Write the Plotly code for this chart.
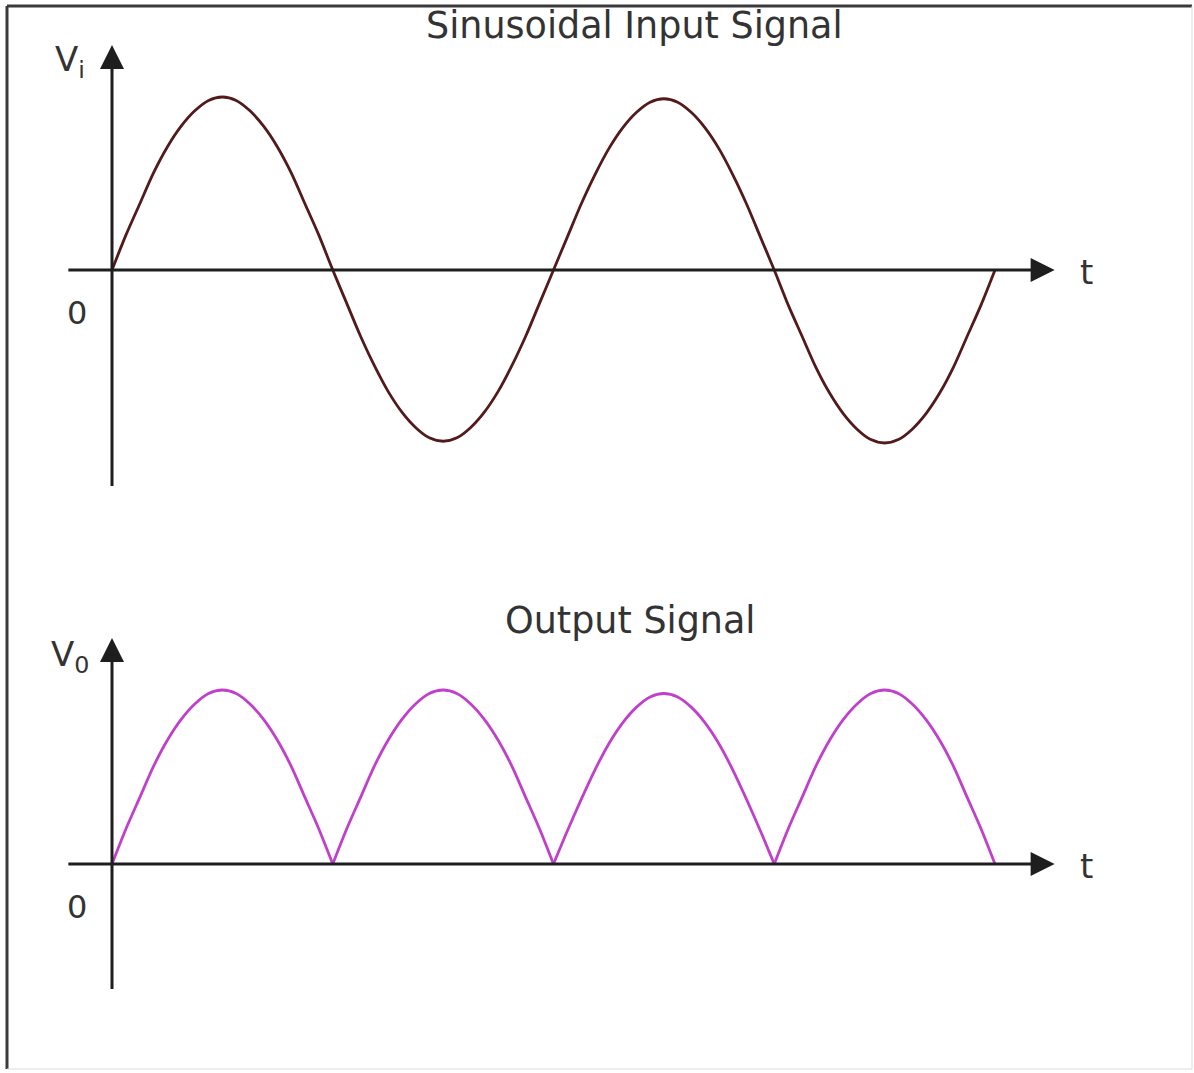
import plotly.graph_objects as go

# ---- data (t in half-periods, v in units of peak amplitude)
t_input = [0.0, 0.0625, 0.125, 0.1875, 0.25, 0.3125, 0.375, 0.4375,
           0.5, 0.5625, 0.625, 0.6875, 0.75, 0.8125, 0.875, 0.9375,
           1.0, 1.0625, 1.125, 1.1875, 1.25, 1.3125, 1.375, 1.4375,
           1.5, 1.5625, 1.625, 1.6875, 1.75, 1.8125, 1.875, 1.9375,
           2.0, 2.0625, 2.125, 2.1875, 2.25, 2.3125, 2.375, 2.4375,
           2.5, 2.5625, 2.625, 2.6875, 2.75, 2.8125, 2.875, 2.9375,
           3.0, 3.0625, 3.125, 3.1875, 3.25, 3.3125, 3.375, 3.4375,
           3.5, 3.5625, 3.625, 3.6875, 3.75, 3.8125, 3.875, 3.9375, 4.0]
v_input = [0.0, 0.20, 0.38, 0.56, 0.71, 0.83, 0.92, 0.98,
           1.00, 0.98, 0.92, 0.83, 0.71, 0.56, 0.38, 0.20,
           0.0, -0.19, -0.38, -0.55, -0.70, -0.82, -0.91, -0.97,
           -0.99, -0.97, -0.91, -0.82, -0.70, -0.55, -0.38, -0.19,
           0.0, 0.19, 0.38, 0.55, 0.70, 0.82, 0.91, 0.97,
           0.99, 0.97, 0.91, 0.82, 0.70, 0.55, 0.38, 0.19,
           0.0, -0.20, -0.38, -0.56, -0.71, -0.83, -0.92, -0.98,
           -1.00, -0.98, -0.92, -0.83, -0.71, -0.56, -0.38, -0.20, 0.0]

t_output = [0.0, 0.0625, 0.125, 0.1875, 0.25, 0.3125, 0.375, 0.4375,
            0.5, 0.5625, 0.625, 0.6875, 0.75, 0.8125, 0.875, 0.9375, 1.0, None,
            1.0, 1.0625, 1.125, 1.1875, 1.25, 1.3125, 1.375, 1.4375,
            1.5, 1.5625, 1.625, 1.6875, 1.75, 1.8125, 1.875, 1.9375, 2.0, None,
            2.0, 2.0625, 2.125, 2.1875, 2.25, 2.3125, 2.375, 2.4375,
            2.5, 2.5625, 2.625, 2.6875, 2.75, 2.8125, 2.875, 2.9375, 3.0, None,
            3.0, 3.0625, 3.125, 3.1875, 3.25, 3.3125, 3.375, 3.4375,
            3.5, 3.5625, 3.625, 3.6875, 3.75, 3.8125, 3.875, 3.9375, 4.0]
v_output = [0.0, 0.20, 0.38, 0.56, 0.71, 0.83, 0.92, 0.98,
            1.00, 0.98, 0.92, 0.83, 0.71, 0.56, 0.38, 0.20, 0.0, None,
            0.0, 0.20, 0.38, 0.56, 0.71, 0.83, 0.92, 0.98,
            1.00, 0.98, 0.92, 0.83, 0.71, 0.56, 0.38, 0.20, 0.0, None,
            0.0, 0.19, 0.37, 0.54, 0.69, 0.81, 0.90, 0.96,
            0.98, 0.96, 0.90, 0.81, 0.69, 0.54, 0.37, 0.19, 0.0, None,
            0.0, 0.20, 0.38, 0.56, 0.71, 0.83, 0.92, 0.98,
            1.00, 0.98, 0.92, 0.83, 0.71, 0.56, 0.38, 0.20, 0.0]

titles = ["Sinusoidal Input Signal", "Output Signal"]
y_labels = ["V<sub>i</sub>", "V<sub>0</sub>"]
origin_label = "0"
time_label = "t"

# axis extents (data units)
t_axis = [-0.2, 4.27]
vi_axis = [-1.254, 1.30]
vo_axis = [-0.724, 1.299]

W, H = 1194, 1073
FONT = "DejaVu Sans"
TXT = "#333333"
AX = "#1e1e1e"

fig = go.Figure()
fig.add_trace(go.Scatter(x=t_input, y=v_input, mode="lines",
                         line=dict(color="#521a1a", width=2.8, shape="spline",
                                   smoothing=0.8),
                         yaxis="y", hoverinfo="skip"))
fig.add_trace(go.Scatter(x=t_output, y=v_output, mode="lines",
                         line=dict(color="#c040cc", width=2.8, shape="spline",
                                   smoothing=0.8),
                         connectgaps=False, yaxis="y2", hoverinfo="skip"))

ann = []
def arrow(x0, y0, x1, y1, yref):
    ann.append(dict(x=x1, y=y1, ax=x0, ay=y0, xref="x", yref=yref,
                    axref="x", ayref=yref, showarrow=True, arrowhead=2,
                    arrowsize=1.6, arrowwidth=3, arrowcolor=AX, text=" ",
                    font=dict(size=1), borderpad=0))

# top axes
arrow(t_axis[0], 0, t_axis[1], 0, "y")
arrow(0, vi_axis[0], 0, vi_axis[1], "y")
# bottom axes
arrow(t_axis[0], 0, t_axis[1], 0, "y2")
arrow(0, vo_axis[0], 0, vo_axis[1], "y2")

def txt(x, y, s, size=36, xanchor="center"):
    ann.append(dict(x=x / W, y=1 - y / H, xref="paper", yref="paper",
                    text=s, showarrow=False, xanchor=xanchor, yanchor="middle",
                    font=dict(family=FONT, size=size, color=TXT)))

txt(634, 26, titles[0], 36.5)
txt(630, 620, titles[1], 36.5)
txt(70, 62, y_labels[0], 34)
txt(70, 656, y_labels[1], 34)
txt(77, 313, origin_label, 32)
txt(77, 907, origin_label, 32)
txt(1086, 272, time_label, 34)
txt(1086, 866, time_label, 34)

shapes = [
    dict(type="line", xref="paper", yref="paper", x0=7 / W, x1=1192 / W,
         y0=1 - 6 / H, y1=1 - 6 / H, line=dict(color="#3a3a3a", width=3)),
    dict(type="line", xref="paper", yref="paper", x0=7 / W, x1=7 / W,
         y0=1 - 6 / H, y1=1 - 1069 / H, line=dict(color="#3a3a3a", width=3)),
    dict(type="line", xref="paper", yref="paper", x0=7 / W, x1=1192 / W,
         y0=1 - 1069 / H, y1=1 - 1069 / H, line=dict(color="#dddddd", width=1)),
    dict(type="line", xref="paper", yref="paper", x0=1192 / W, x1=1192 / W,
         y0=1 - 6 / H, y1=1 - 1069 / H, line=dict(color="#dddddd", width=1)),
]

px_per_t = 220.75
fig.update_layout(
    width=W, height=H, autosize=False,
    margin=dict(l=0, r=0, t=0, b=0, pad=0),
    paper_bgcolor="white", plot_bgcolor="white",
    showlegend=False,
    xaxis=dict(range=[-112 / px_per_t, (W - 112) / px_per_t], visible=False,
               domain=[0, 1], fixedrange=True),
    yaxis=dict(range=[(270 - H) / 173, 270 / 173], visible=False,
               domain=[0, 1], fixedrange=True),
    yaxis2=dict(range=[(864 - H) / 174, 864 / 174], visible=False,
                domain=[0, 1], overlaying="y", fixedrange=True),
    annotations=ann, shapes=shapes,
)

fig.write_html("out.html", config={"displayModeBar": False},
               post_script="document.body.style.margin='0';")
